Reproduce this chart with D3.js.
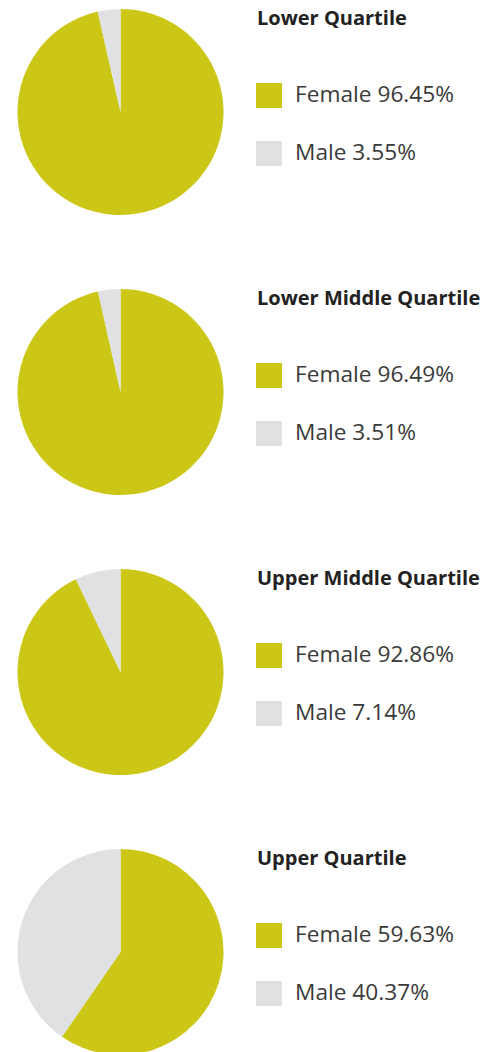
<!DOCTYPE html>
<html>
<head>
<meta charset="utf-8">
<script src="https://cdn.jsdelivr.net/npm/d3@7"></script>
<style>
body { margin: 0; background: #fff; }
</style>
</head>
<body>
<div id="chart"></div>
<script>
"use strict";
// pay gap quartiles, gender split
var quartiles = ["Lower Quartile", "Lower Middle Quartile", "Upper Middle Quartile", "Upper Quartile"];
var genders = ["Female", "Male"];
var femaleShare = [96.45, 96.49, 92.86, 59.63];
var maleShare = [3.55, 3.51, 7.14, 40.37];
var genderColors = ["#ccc617", "#e0e1e3"];

var width = 497, height = 1052;
var rowHeight = 280, firstCenterY = 112, centerX = 120.5, radius = 103;

var svg = d3.select("#chart").append("svg")
	.attr("width", width)
	.attr("height", height);

var color = d3.scaleOrdinal().domain(genders).range(genderColors);
var pie = d3.pie().sort(null).value(function(d){ return d.value; });
var arc = d3.arc().innerRadius(0).outerRadius(radius);

quartiles.forEach(function(q, i){
	var cy = firstCenterY + i * rowHeight;
	var data = [
		{gender: "Female", value: femaleShare[i]},
		{gender: "Male", value: maleShare[i]}
	];

	var g = svg.append("g").attr("transform", "translate(" + centerX + "," + cy + ")");
	g.selectAll("path").data(pie(data)).enter().append("path")
		.attr("d", arc)
		.style("fill", function(d){ return color(d.data.gender); });

	//legend at the side
	var leg = svg.append("g").attr("transform", "translate(256," + cy + ")");
	leg.append("text")
		.attr("x", 1)
		.attr("y", -87)
		.style("font-family", "'Open Sans', sans-serif")
		.style("font-weight", "bold")
		.style("font-size", "20px")
		.style("fill", "#222")
		.text(q);

	var items = leg.selectAll(".item").data(data).enter().append("g")
		.attr("class", "item")
		.attr("transform", function(d, j){ return "translate(0," + (-29 + j * 58) + ")"; });
	items.append("rect")
		.attr("width", 26)
		.attr("height", 25)
		.style("fill", function(d){ return color(d.gender); });
	items.append("text")
		.attr("x", 39)
		.attr("y", 19)
		.style("font-family", "'Open Sans', sans-serif")
		.style("font-size", "22.7px")
		.style("fill", "#3a3a3a")
		.text(function(d){ return d.gender + " " + d.value.toFixed(2) + "%"; });
});
</script>
</body>
</html>
